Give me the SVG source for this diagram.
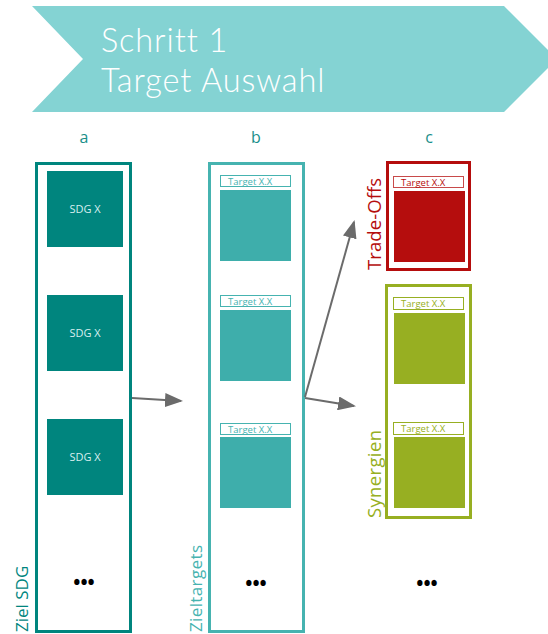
<svg xmlns="http://www.w3.org/2000/svg" width="548" height="634" viewBox="0 0 548 634">
  <style>
    text { font-family: "Open Sans", "Liberation Sans", sans-serif; }
    .title { fill: #ffffff; font-family: Lato, "Open Sans", sans-serif; font-size: 32.5px; font-weight: 300; letter-spacing: 0.9px; }
    .col { fill: #1a8f8a; font-size: 16px; text-anchor: middle; }
    .side { font-size: 17px; }
    .sdg { fill: #d8efee; font-size: 11px; text-anchor: middle; }
    .tgt { font-size: 9.5px; }
    .dots { fill: #000000; font-size: 19px; font-weight: bold; text-anchor: middle; }
    .conn { stroke: #6b6b6b; stroke-width: 2; fill: none; marker-end: url(#arrow); }
  </style>
  <defs>
    <marker id="arrow" markerWidth="9" markerHeight="7" refX="8" refY="3.5" orient="auto" markerUnits="strokeWidth">
      <path d="M0,0 L9,3.5 L0,7 Z" fill="#6b6b6b"/>
    </marker>
  </defs>

  <!-- step banner -->
  <g id="banner">
    <polygon points="32,6 504,6 557,59 504,112 32,112 83,59" fill="#84d3d3"/>
    <text class="title" x="101" y="52">Schritt 1</text>
    <text class="title" x="101" y="91.5">Target Auswahl</text>
  </g>

  <!-- column headings -->
  <g id="headings">
    <text class="col" x="84" y="143">a</text>
    <text class="col" x="256" y="143">b</text>
    <text class="col" x="429" y="143">c</text>
  </g>

  <!-- column a: goal SDGs -->
  <g id="ziel-sdg">
    <rect x="36.5" y="163.5" width="94" height="468" fill="none" stroke="#00857e" stroke-width="3"/>
    <rect x="47" y="171" width="76" height="76" fill="#00857e"/>
    <text class="sdg" x="85" y="213">SDG X</text>
    <rect x="47" y="295" width="76" height="76" fill="#00857e"/>
    <text class="sdg" x="85" y="337">SDG X</text>
    <rect x="47" y="419" width="76" height="76" fill="#00857e"/>
    <text class="sdg" x="85" y="461">SDG X</text>
    <text class="dots" x="84" y="589">•••</text>
    <text class="side" fill="#00857e" transform="translate(28,632) rotate(-90)">Ziel SDG</text>
  </g>

  <!-- column b: goal targets -->
  <g id="zieltargets">
    <rect x="209.5" y="163.5" width="94" height="468" fill="none" stroke="#46b3b0" stroke-width="3"/>
    <rect x="220.5" y="175.5" width="70" height="11" fill="none" stroke="#46b3b0" stroke-width="1"/>
    <text class="tgt" fill="#46b3b0" x="228" y="184.5">Target X.X</text>
    <rect x="220" y="190" width="71" height="71" fill="#3eaeab"/>
    <rect x="220.5" y="295.5" width="70" height="11" fill="none" stroke="#46b3b0" stroke-width="1"/>
    <text class="tgt" fill="#46b3b0" x="228" y="304.5">Target X.X</text>
    <rect x="220" y="310" width="71" height="71" fill="#3eaeab"/>
    <rect x="220.5" y="423.5" width="70" height="11" fill="none" stroke="#46b3b0" stroke-width="1"/>
    <text class="tgt" fill="#46b3b0" x="228" y="432.5">Target X.X</text>
    <rect x="220" y="437" width="71" height="71" fill="#3eaeab"/>
    <text class="dots" x="256" y="590">•••</text>
    <text class="side" fill="#46b3b0" transform="translate(202,632) rotate(-90)" textLength="87">Zieltargets</text>
  </g>

  <!-- column c: trade-offs -->
  <g id="trade-offs">
    <rect x="387.5" y="162.5" width="82" height="107" fill="none" stroke="#b50d0d" stroke-width="3"/>
    <rect x="393.5" y="176.5" width="70" height="11" fill="none" stroke="#c84a4a" stroke-width="1"/>
    <text class="tgt" fill="#b50d0d" x="401" y="185.5">Target X.X</text>
    <rect x="394" y="191" width="71" height="71" fill="#b50d0d"/>
    <text class="side" fill="#b50d0d" transform="translate(381,270) rotate(-90)" style="font-size:18.5px" textLength="92">Trade-Offs</text>
  </g>

  <!-- column c: synergies -->
  <g id="synergien">
    <rect x="386.5" y="285.5" width="84" height="232" fill="none" stroke="#97af22" stroke-width="3"/>
    <rect x="393.5" y="297.5" width="70" height="12" fill="none" stroke="#97af22" stroke-width="1"/>
    <text class="tgt" fill="#97af22" x="401" y="307">Target X.X</text>
    <rect x="394" y="313" width="71" height="71" fill="#97af22"/>
    <rect x="393.5" y="422.5" width="70" height="12" fill="none" stroke="#97af22" stroke-width="1"/>
    <text class="tgt" fill="#97af22" x="401" y="432">Target X.X</text>
    <rect x="394" y="437" width="71" height="71" fill="#97af22"/>
    <text class="side" fill="#97af22" transform="translate(381,518) rotate(-90)" style="font-size:18.5px" textLength="88">Synergien</text>
    <text class="dots" x="427" y="590">•••</text>
  </g>

  <!-- connectors -->
  <g id="connectors">
    <line class="conn" x1="132" y1="398" x2="181" y2="401"/>
    <line class="conn" x1="305" y1="398" x2="354" y2="406"/>
    <line class="conn" x1="305" y1="397" x2="354" y2="222"/>
  </g>
</svg>
